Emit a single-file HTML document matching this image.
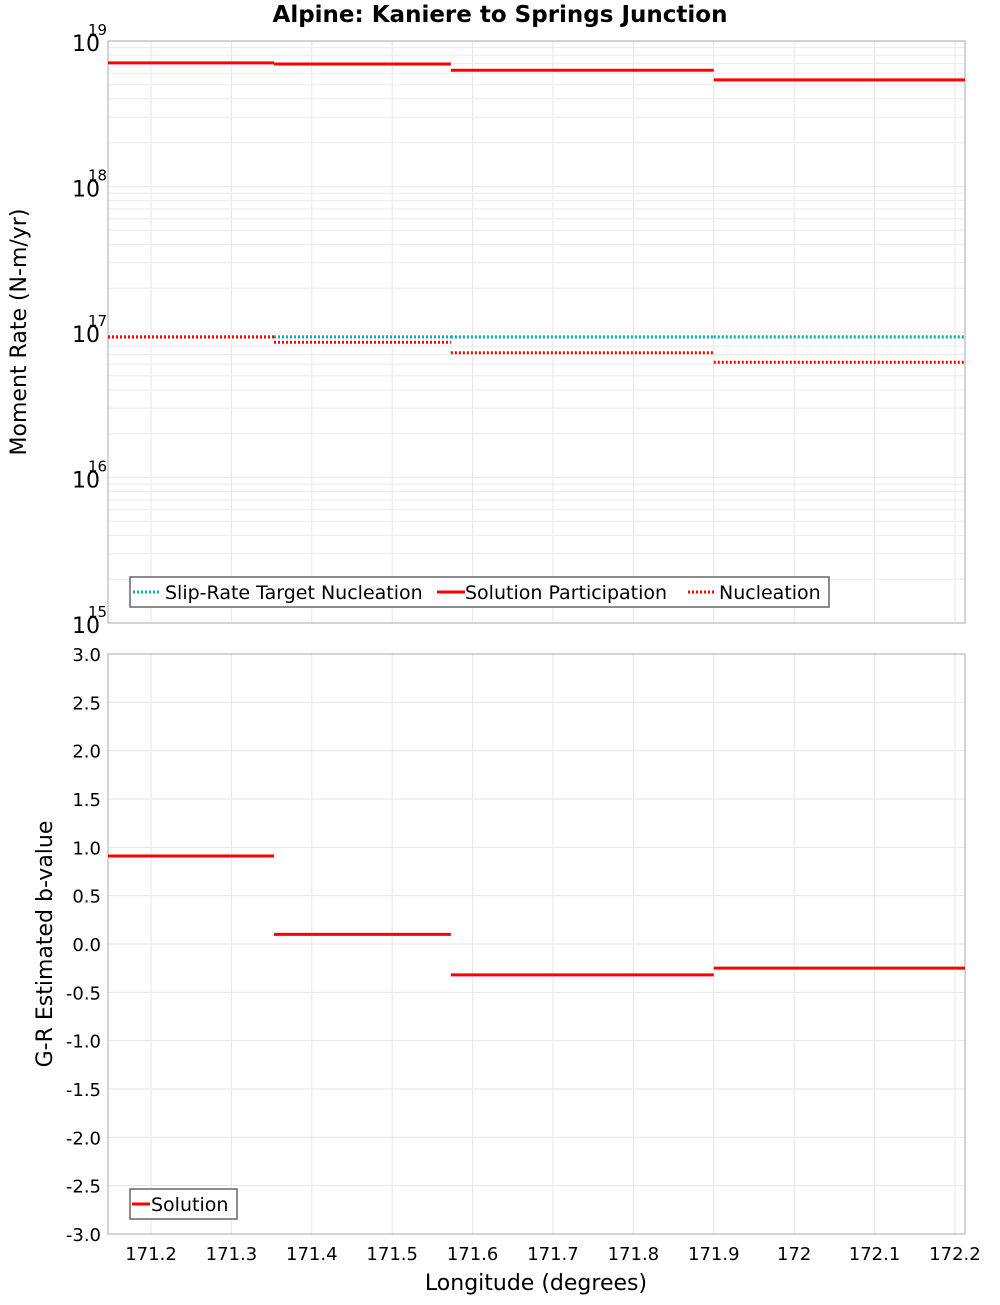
<!DOCTYPE html>
<html><head><meta charset="utf-8"><style>
body{margin:0;background:#fff;}
svg text{font-family:"DejaVu Sans","Liberation Sans",sans-serif;}
</style></head><body>
<svg id="chart" width="1000" height="1300" xmlns="http://www.w3.org/2000/svg">
<text x="500" y="22" text-anchor="middle" font-size="23" font-weight="bold">Alpine: Kaniere to Springs Junction</text>
<g id="topPanel"></g>
<g id="botPanel"></g>
<text transform="translate(26,332) rotate(-90)" text-anchor="middle" font-size="22">Moment Rate (N-m/yr)</text>
<text transform="translate(52,944) rotate(-90)" text-anchor="middle" font-size="22">G-R Estimated b-value</text>
<text x="536" y="1290" text-anchor="middle" font-size="22">Longitude (degrees)</text>
</svg>
<script>
const segEdges=[171.1465,171.353,171.573,171.900,172.2125];
const participation=[7.07e18,6.95e18,6.3e18,5.4e18];
const targetNucleation=[9.25e16,9.25e16,9.25e16,9.25e16];
const nucleation=[9.25e16,8.5e16,7.2e16,6.2e16];
const bValues=[0.91,0.10,-0.32,-0.25];
const xTicks=[171.2,171.3,171.4,171.5,171.6,171.7,171.8,171.9,172,172.1,172.2];
const xTickLabels=["171.2","171.3","171.4","171.5","171.6","171.7","171.8","171.9","172","172.1","172.2"];
const logDecades=[15,16,17,18,19];
const bTicks=[-3,-2.5,-2,-1.5,-1,-0.5,0,0.5,1,1.5,2,2.5,3];

const NS="http://www.w3.org/2000/svg";
const L=108,R=965;
const T1=41,B1=623,T2=654,B2=1234;
const X=v=>L+(v-171.1465)/(172.2125-171.1465)*(R-L);
const Ylog=v=>B1-(Math.log10(v)-15)/4*(B1-T1);
const Yb=v=>B2-(v+3)/6*(B2-T2);
function mk(p,tag,a,txt){const e=document.createElementNS(NS,tag);for(const k in a)e.setAttribute(k,a[k]);if(txt!==undefined)e.textContent=txt;p.appendChild(e);return e;}
const topG=document.getElementById('topPanel'),botG=document.getElementById('botPanel');

for(const t of xTicks){
 let g=mk(topG,'line',{x1:X(t),x2:X(t),y1:T1,y2:B1,stroke:'#e6e6e6'});
 
 
 g=mk(botG,'line',{x1:X(t),x2:X(t),y1:T2,y2:B2,stroke:'#e6e6e6'});
 
 
}
for(let d=15;d<19;d++)for(let m=1;m<10;m++){
 const y=Ylog(m*Math.pow(10,d));
 const g=mk(topG,'line',{x1:L,x2:R,y1:y,y2:y,stroke:'#ebebeb'});
 
 
}
for(const t of bTicks){
 const g=mk(botG,'line',{x1:L,x2:R,y1:Yb(t),y2:Yb(t),stroke:'#e6e6e6'});
 
 
}
let f=mk(topG,'rect',{x:L,y:T1,width:R-L,height:B1-T1,fill:'none',stroke:'#aaa'});


f=mk(botG,'rect',{x:L,y:T2,width:R-L,height:B2-T2,fill:'none',stroke:'#aaa'});



for(const d of logDecades){
 const y=Ylog(Math.pow(10,d));
 let t=mk(topG,'text',{x:100,y:y+10,'text-anchor':'end','font-size':22},'10');
 
 
 t=mk(topG,'text',{x:88,y:y-6,'font-size':15},String(d));
 
 
}
for(const b of bTicks){
 const t=mk(botG,'text',{x:101,y:Yb(b)+7,'text-anchor':'end','font-size':18},b.toFixed(1));
 
 
}
xTicks.forEach((t,i)=>{
 const e=mk(botG,'text',{x:X(t),y:1260,'text-anchor':'middle','font-size':18},xTickLabels[i]);
 
 
});

function seg(p,vals,yf,color,dash,name){
 vals.forEach((v,i)=>{
  const a={x1:X(segEdges[i]),x2:X(segEdges[i+1]),y1:yf(v),y2:yf(v),stroke:color,'stroke-width':3};
  if(dash)a['stroke-dasharray']='2,2';
  const e=mk(p,'line',a);
  
  
 });
}
seg(topG,targetNucleation,Ylog,'#00b0b0',true,'target-nucleation-segment');
seg(topG,participation,Ylog,'#ff0000',false,'participation-segment');
seg(topG,nucleation,Ylog,'#ff0000',true,'nucleation-segment');
seg(botG,bValues,Yb,'#ff0000',false,'b-value-segment');

let lg=mk(topG,'rect',{x:130,y:577,width:699,height:30,fill:'#fff',stroke:'#666','stroke-width':1.5});


const items=[[133,'#00b0b0',true,'Slip-Rate Target Nucleation',165],[437,'#ff0000',false,'Solution Participation',465],[688,'#ff0000',true,'Nucleation',719]];
for(const it of items){
 const a={x1:it[0],x2:it[0]+28,y1:592,y2:592,stroke:it[1],'stroke-width':3};
 if(it[2])a['stroke-dasharray']='2,2';
 let e=mk(topG,'line',a);
 
 
 e=mk(topG,'text',{x:it[4],y:599,'font-size':19},it[3]);
 
 
}
lg=mk(botG,'rect',{x:130,y:1189,width:107,height:30,fill:'#fff',stroke:'#666','stroke-width':1.5});


let e=mk(botG,'line',{x1:132,x2:150,y1:1204,y2:1204,stroke:'#ff0000','stroke-width':3});


e=mk(botG,'text',{x:151,y:1211,'font-size':19},'Solution');


</script>
</body></html>
